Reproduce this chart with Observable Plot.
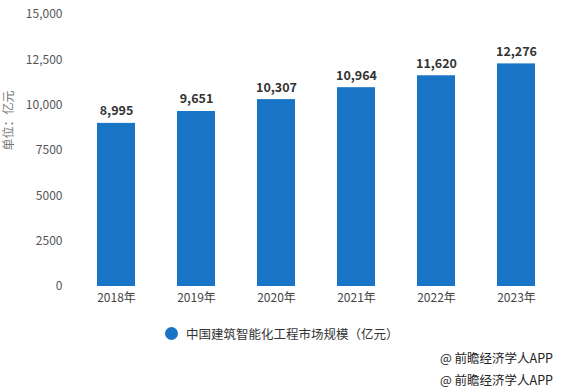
<!DOCTYPE html>
<html><head><meta charset="utf-8">
<script src="https://cdn.jsdelivr.net/npm/d3@7"></script>
<script src="https://cdn.jsdelivr.net/npm/@observablehq/plot@0.6"></script>
<style>
body{margin:0;background:#fff;font-family:"Noto Sans CJK SC","Noto Sans",sans-serif;}
#wrap{position:relative;width:561px;height:391px;}
#legend{position:absolute;left:165px;top:324px;font-size:12.5px;color:#333;display:flex;align-items:center;}
#legend span.dot{display:inline-block;width:13px;height:13px;border-radius:50%;background:#1874c5;margin-right:8px;}
.src{position:absolute;right:8px;font-size:12.5px;color:#222;}
</style></head><body>
<div id="wrap"><div id="chart"></div>
<div id="legend"><span class="dot"></span><span>中国建筑智能化工程市场规模（亿元）</span></div>
<div class="src" style="top:348px">@ 前瞻经济学人APP</div>
<div class="src" style="top:370px">@ 前瞻经济学人APP</div>
</div>
<script>
const years = ["2018年","2019年","2020年","2021年","2022年","2023年"];
const values = [8995, 9651, 10307, 10964, 11620, 12276];
const yTicks = [0, 2500, 5000, 7500, 10000, 12500, 15000];
const yTickLabels = ["0","2500","5000","7500","10,000","12,500","15,000"];
const yLabel = "单位：亿元";
const data = years.map((y,i)=>({year:y, value:values[i]}));
const fmt = d3.format(",");
const chart = Plot.plot({
  width: 561, height: 310,
  marginTop: 14, marginBottom: 24, marginLeft: 76, marginRight: 5,
  style: {fontFamily: '"Noto Sans CJK SC","Noto Sans",sans-serif', fontSize: "12px", color: "#555"},
  x: {domain: years, paddingInner: 0.525, paddingOuter: 0.2625, label: null, tickSize: 0},
  y: {domain: [0, 15000], ticks: yTicks, tickFormat: (d)=>yTickLabels[yTicks.indexOf(d)], label: null, tickSize: 0},
  marks: [
    Plot.gridY(yTicks, {x1: 68, x2: 556, stroke: "#d9d9d9", strokeOpacity: 1}),
    Plot.axisY({ticks: yTicks, tickFormat: (d)=>yTickLabels[yTicks.indexOf(d)], tickSize: 0, tickPadding: 14, fontSize: 12, fill: "#555", label: null}),
    Plot.axisX({tickSize: 0, tickPadding: 7, fontSize: 12, fill: "#444", label: null}),
    Plot.barY(data, {x: "year", y: "value", fill: "#1874c5"}),
    Plot.ruleY([0], {x1: 68, x2: 556, stroke: "#999"}),
    Plot.text(data, {x: "year", y: "value", text: d=>fmt(d.value), dy: -12, fontWeight: "bold", fontSize: 12.5, fill: "#333"}),
    Plot.text([yLabel], {frameAnchor: "left", dx: -67, rotate: -90, fontSize: 12, fill: "#777", text: d=>d})
  ]
});
document.getElementById("chart").appendChild(chart);
</script>
</body></html>
